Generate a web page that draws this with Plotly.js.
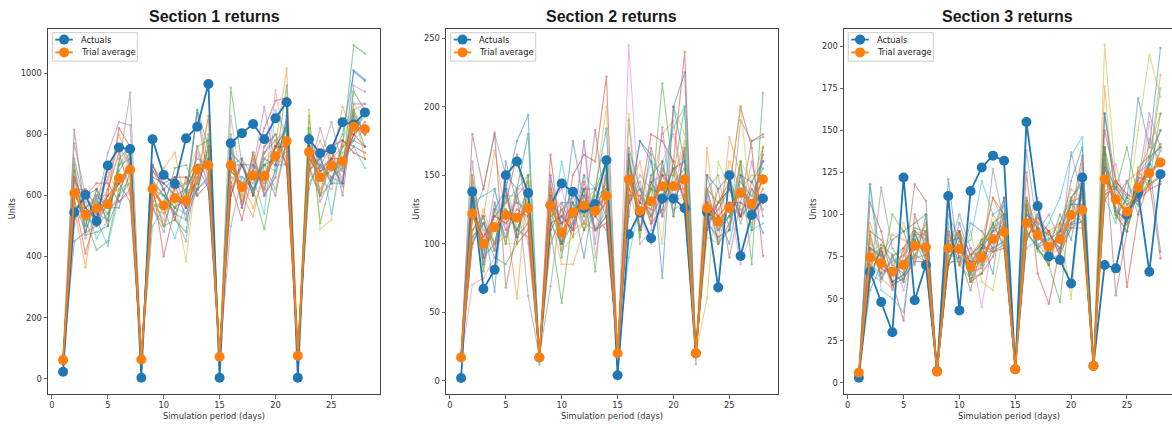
<!DOCTYPE html>
<html>
<head>
<meta charset="utf-8">
<script src="https://cdn.plot.ly/plotly-3.0.1.min.js"></script>
<style>
  html, body { margin: 0; padding: 0; background: #fff; }
  #chart { width: 1172px; height: 424px; }
</style>
</head>
<body>
<div id="chart"></div>
<script>
// Simulation days
const days = [1,2,3,4,5,6,7,8,9,10,11,12,13,14,15,16,17,18,19,20,21,22,23,24,25,26,27,28];

// Section 1
const actuals1 = [23,544,602,516,698,757,752,3,784,667,638,787,825,965,3,771,804,834,784,853,905,3,784,738,751,840,832,872];
const average1 = [61,607,536,558,571,656,684,63,621,567,591,582,684,699,72,699,627,665,664,728,778,75,742,660,697,711,825,817];
const trials1 = [
  [55,720,560,590,520,700,720,70,650,600,540,610,880,760,80,680,640,700,620,760,820,60,760,690,720,680,1010,980],
  [70,560,365,600,650,800,700,50,600,690,740,560,650,860,65,720,600,530,700,760,1016,90,700,600,700,890,800,830],
  [45,650,520,422,450,620,690,80,570,560,690,700,600,800,70,953,700,620,490,700,960,70,860,510,650,760,1092,1065],
  [65,590,410,540,600,820,760,60,640,400,560,590,870,650,85,640,520,680,820,910,920,80,720,700,660,690,800,760],
  [50,620,620,560,740,840,830,75,580,620,530,450,700,690,60,760,560,690,890,700,700,60,680,820,700,630,960,940],
  [80,815,530,500,580,640,700,55,610,500,620,640,720,700,75,600,700,620,680,600,780,85,640,700,760,600,870,800],
  [60,500,560,600,560,580,610,70,700,640,600,540,620,650,65,860,620,720,600,945,740,65,800,650,620,720,780,820],
  [58,770,600,540,520,700,937,65,560,580,660,610,640,720,70,500,660,640,700,620,780,75,760,720,840,700,800,880],
  [55,700,500,620,680,600,660,60,660,540,580,385,700,720,80,720,580,620,720,760,700,70,880,490,520,780,880,720],
  [65,560,560,520,435,600,640,55,500,560,460,580,880,700,70,700,720,660,540,880,800,80,620,740,540,720,760,690],
  [60,450,480,600,560,640,580,65,700,620,660,560,620,660,75,740,700,700,660,760,820,70,690,600,720,800,1005,975],
  [62,610,560,520,570,700,740,60,620,560,580,600,640,860,70,660,640,560,660,720,700,75,700,780,700,660,850,810],
  [58,680,470,480,500,720,760,62,560,500,520,480,760,780,70,800,560,740,600,660,860,72,820,600,640,640,940,880],
  [64,520,600,640,640,580,620,66,680,640,660,660,600,640,75,600,720,600,760,800,700,78,680,740,760,780,740,720],
  [60,700,480,500,620,740,620,60,560,480,640,520,760,620,70,780,560,740,600,680,860,74,800,580,660,640,900,900],
  [63,540,600,620,500,600,720,64,700,620,520,660,620,760,73,620,700,600,740,780,700,76,680,720,640,780,760,740],
  [59,660,460,540,660,760,700,61,580,520,660,560,740,640,71,740,560,720,600,660,840,73,780,600,760,640,880,900],
  [62,520,580,500,540,600,740,65,680,620,540,520,620,760,74,640,700,620,740,800,720,77,700,720,640,760,780,760],
  [61,700,520,600,600,620,640,62,600,500,640,640,760,660,72,760,600,720,620,780,820,75,680,600,740,700,900,860],
  [60,560,560,460,520,700,760,63,640,600,560,540,640,740,72,660,660,620,700,680,760,74,800,700,640,740,780,880],
  [62,620,500,620,560,560,680,64,660,640,600,620,700,620,71,700,700,600,720,700,840,76,720,680,700,640,860,760],
  [60,600,620,560,620,740,600,62,560,540,620,580,640,760,73,720,580,740,620,760,740,74,760,620,720,760,820,860],
  [61,580,480,580,540,680,740,63,620,600,560,620,700,700,72,680,640,660,700,720,820,75,720,660,680,700,880,800],
  [62,660,560,520,600,640,700,62,620,560,600,560,660,720,72,720,620,680,640,760,760,75,760,680,720,720,800,840]
];

// Section 2
const actuals2 = [2,138,67,81,150,160,137,17,128,144,138,126,129,161,4,107,123,104,133,133,126,20,123,68,150,91,121,133];
const average2 = [17,122,100,112,121,119,126,17,128,108,123,128,124,135,20,147,124,131,142,142,147,20,126,116,126,137,129,147];
const trials2 = [
  [15,130,90,100,140,175,194,15,150,110,175,130,120,150,18,130,175,160,120,200,225,18,150,120,100,140,130,160],
  [18,110,120,168,120,60,150,20,120,85,85,110,130,140,22,140,110,140,180,190,130,22,170,100,178,150,120,171],
  [16,140,110,90,85,100,150,12,110,57,120,140,80,160,19,170,140,130,217,150,200,19,130,110,120,160,85,210],
  [20,150,100,120,130,165,120,18,165,100,150,165,160,222,20,160,130,180,175,160,240,21,120,130,140,200,170,91],
  [17,160,90,140,110,120,140,16,120,130,110,175,100,150,21,190,100,110,185,120,170,20,140,110,130,120,160,120],
  [18,180,140,181,68,110,130,17,100,120,140,120,183,120,20,150,120,170,140,130,150,19,110,140,90,130,175,180],
  [15,70,75,90,120,130,100,19,130,140,110,175,90,140,18,245,120,100,160,180,140,20,120,100,130,85,110,130],
  [16,120,140,180,150,140,62,18,69,130,130,110,120,110,22,130,150,140,120,150,135,12,140,150,110,190,175,178],
  [17,110,120,100,130,140,180,16,140,110,120,130,140,200,20,195,110,150,100,200,180,20,60,160,140,200,120,150],
  [18,130,135,140,100,140,180,17,110,160,120,150,140,130,19,90,130,160,150,185,200,21,130,110,120,140,110,115],
  [16,100,120,65,160,130,125,18,125,115,130,90,140,184,20,120,175,165,75,200,160,20,150,140,150,120,130,108],
  [19,120,105,115,125,110,130,17,135,100,120,125,125,145,21,140,160,120,150,150,170,19,125,120,160,140,150,150],
  [16,145,80,130,100,140,150,17,145,90,140,110,140,160,20,165,105,150,160,120,170,20,140,100,110,160,110,170],
  [18,100,115,95,140,100,110,18,110,125,105,145,110,115,21,130,140,115,125,160,130,21,110,130,140,120,145,130],
  [17,135,90,125,105,135,145,16,140,95,135,115,140,150,20,160,110,145,150,130,165,20,135,100,115,150,120,165],
  [16,105,115,100,135,105,115,17,115,120,110,140,110,120,19,135,135,120,135,155,130,20,115,125,140,120,140,130],
  [17,140,85,130,110,140,140,17,150,100,140,115,130,160,20,170,110,150,120,140,170,19,140,110,110,155,125,165],
  [18,110,120,95,145,110,105,18,115,120,110,150,110,120,21,130,145,115,160,125,130,21,115,130,145,115,140,125],
  [17,150,80,125,100,100,150,16,140,95,105,115,140,155,20,160,105,145,130,150,175,20,105,100,115,160,145,170],
  [16,105,115,100,135,135,115,17,120,125,135,135,110,125,20,135,140,120,155,135,135,20,140,130,140,125,120,135],
  [18,140,85,125,140,105,140,18,115,100,115,140,140,120,21,165,110,145,130,155,160,20,115,105,110,150,145,160],
  [17,100,125,100,105,135,110,17,140,125,110,115,110,150,20,135,135,115,155,130,135,20,140,130,145,125,115,135],
  [16,130,95,110,125,110,135,16,125,100,130,120,135,140,20,155,120,140,135,145,155,20,120,115,120,145,135,155],
  [18,120,105,120,115,125,120,18,135,115,120,135,120,130,21,140,130,125,150,140,140,21,130,120,130,130,125,140]
];

// Section 3
const actuals3 = [3,66,48,30,122,49,70,7,111,43,114,128,135,132,8,155,105,75,73,59,122,10,70,68,100,113,66,124];
const average3 = [6,74.5,71,66,70,81.5,80.5,6.6,80,79.5,69,74.5,85.4,89.6,8,95,88,81,85.4,99.7,102.7,10,121,109,101.7,116,124.5,131];
const trials3 = [
  [5,118,70,65,60,85,90,6,121,70,95,90,80,100,7,110,90,80,85,120,140,9,160,120,110,169,140,199],
  [6,80,75,88,85,80,95,7,85,90,60,75,100,90,8,100,95,70,90,100,110,10,176,100,90,120,130,183],
  [7,70,65,100,90,95,100,6,75,80,65,85,90,110,9,90,80,70,48,110,120,11,130,115,140,110,120,160],
  [6,107,90,60,37,100,80,7,80,90,60,65,75,95,8,125,65,47,80,100,135,10,150,120,57,100,120,74],
  [5,75,80,55,75,85,75,6,100,85,70,80,95,80,8,100,95,90,75,137,110,10,130,100,110,120,160,140],
  [6,90,85,70,65,118,108,7,70,75,55,80,110,100,8,105,80,85,90,95,100,9,140,52,90,115,130,150],
  [6,65,60,75,55,80,90,6,90,75,80,45,85,110,7,95,110,75,80,110,100,10,120,130,100,110,155,120],
  [5,60,116,80,70,85,70,7,80,100,80,70,127,95,8,138,90,100,85,95,130,9,140,110,120,100,145,130],
  [6,85,70,65,95,75,95,6,85,70,90,60,55,90,9,90,100,85,95,50,120,10,201,120,100,150,195,170],
  [7,118,55,50,42,90,85,7,95,80,85,120,100,105,8,80,85,95,110,135,146,11,110,95,120,105,130,175],
  [5,55,70,85,90,70,100,6,70,95,75,85,65,110,8,85,100,80,100,85,120,10,160,110,100,110,130,78],
  [6,95,75,60,80,90,85,7,80,90,70,85,110,95,8,110,85,90,95,115,110,10,130,100,120,125,140,160],
  [6,88,62,75,80,92,90,7,90,70,62,65,95,100,8,108,80,70,95,110,118,10,140,100,90,128,135,150],
  [7,62,80,58,62,72,72,6,70,90,76,82,78,80,8,85,98,90,76,92,92,10,108,120,112,108,115,118],
  [6,80,65,72,76,88,88,7,88,75,66,68,92,98,8,105,82,75,92,106,112,10,132,104,95,125,130,142],
  [5,70,78,60,64,76,72,6,72,84,72,80,80,84,8,88,92,88,80,94,96,10,112,116,106,110,118,122],
  [6,84,62,76,78,90,88,7,90,86,62,70,90,96,8,102,94,72,90,108,110,10,130,100,94,124,134,140],
  [7,66,78,58,62,74,76,6,72,72,76,78,78,82,9,90,80,90,78,92,96,11,114,118,108,108,118,124],
  [6,78,82,70,76,88,74,7,86,88,60,84,92,96,8,106,94,72,92,108,110,10,134,100,96,126,116,142],
  [6,70,62,74,68,76,86,6,76,74,74,70,80,84,8,88,82,86,80,94,98,10,112,116,106,110,130,124],
  [5,80,76,60,64,88,76,7,84,86,64,80,90,94,8,100,92,76,90,106,106,10,128,102,96,122,120,138],
  [7,90,62,56,80,74,90,7,92,70,76,68,78,96,9,86,96,88,94,92,110,10,110,120,94,126,116,124],
  [6,62,82,76,60,90,72,6,72,88,60,82,94,82,8,106,78,74,76,108,94,10,136,98,110,106,134,140],
  [6,76,68,64,72,80,82,7,82,78,72,72,86,92,8,96,86,82,86,98,104,10,122,110,100,118,126,130]
];

const sectionTitles = ['Section 1 returns', 'Section 2 returns', 'Section 3 returns'];
const seriesNames = ['Actuals', 'Trial average'];
const xTitle = 'Simulation period (days)';
const yTitle = 'Units';

const palette = ['#1f77b4','#ff7f0e','#2ca02c','#d62728','#9467bd','#8c564b','#e377c2','#7f7f7f','#bcbd22','#17becf'];
const seriesColors = ['#1f77b4', '#ff7f0e'];

const W = 1172, H = 424;
const px = v => v / W;
const py = v => (H - v) / H;

const sections = [
  {trials: trials1, actuals: actuals1, average: average1, xa: 'x', ya: 'y'},
  {trials: trials2, actuals: actuals2, average: average2, xa: 'x2', ya: 'y2'},
  {trials: trials3, actuals: actuals3, average: average3, xa: 'x3', ya: 'y3'}
];

const traces = [];
sections.forEach(s => {
  s.trials.forEach((t, i) => {
    traces.push({
      x: days, y: t, xaxis: s.xa, yaxis: s.ya,
      type: 'scatter', mode: 'lines+markers',
      line: {color: palette[i % 10], width: 1.1},
      marker: {color: palette[i % 10], size: 2.5},
      opacity: 0.5, showlegend: false, hoverinfo: 'skip'
    });
  });
  [s.actuals, s.average].forEach((vals, k) => {
    traces.push({
      x: days, y: vals, xaxis: s.xa, yaxis: s.ya, name: seriesNames[k],
      type: 'scatter', mode: 'lines+markers', showlegend: false,
      line: {color: seriesColors[k], width: 1.8},
      marker: {color: seriesColors[k], size: 10}
    });
  });
});

const tickFont = {family: 'DejaVu Sans', size: 8.3, color: '#333'};
const axisCommon = {
  showgrid: false, zeroline: false, showline: true, mirror: true,
  linecolor: '#444', linewidth: 1, ticks: 'outside', ticklen: 3.5,
  tickwidth: 0.8, tickcolor: '#444', tickfont: tickFont, fixedrange: true
};
const yDomain = [30 / H, 395 / H];

const layout = {
  width: W, height: H,
  margin: {l: 0, r: 0, t: 0, b: 0},
  paper_bgcolor: '#fff', plot_bgcolor: '#fff',
  showlegend: false,
  hovermode: false,
  xaxis:  Object.assign({}, axisCommon, {domain: [px(48), px(380)],  range: [-0.35, 29.35], tickvals: [0,5,10,15,20,25], anchor: 'y'}),
  xaxis2: Object.assign({}, axisCommon, {domain: [px(446), px(778)], range: [-0.35, 29.35], tickvals: [0,5,10,15,20,25], anchor: 'y2'}),
  xaxis3: Object.assign({}, axisCommon, {domain: [px(844), 1],       range: [-0.33, 29.03], tickvals: [0,5,10,15,20,25], anchor: 'y3'}),
  yaxis:  Object.assign({}, axisCommon, {domain: yDomain, range: [-50, 1145],  dtick: 200, tick0: 0, anchor: 'x'}),
  yaxis2: Object.assign({}, axisCommon, {domain: yDomain, range: [-9.7, 256.8], dtick: 50,  tick0: 0, anchor: 'x2'}),
  yaxis3: Object.assign({}, axisCommon, {domain: yDomain, range: [-6.7, 210.3], dtick: 25,  tick0: 0, anchor: 'x3'}),
  shapes: [],
  annotations: []
};

// Compact legend box in the upper-left corner of each panel
const legendLeft = [52.3, 450.7, 848.3];
const legendTop = 32.7, legendW = 85, legendH = 28.5;
const rowY = [39.6, 52.4];
legendLeft.forEach(L => {
  layout.shapes.push({
    type: 'rect', xref: 'paper', yref: 'paper',
    x0: px(L), x1: px(L + legendW), y0: py(legendTop + legendH), y1: py(legendTop),
    fillcolor: 'rgba(255,255,255,0.85)', line: {color: '#cccccc', width: 1}, layer: 'above'
  });
  seriesNames.forEach((name, k) => {
    layout.shapes.push({
      type: 'line', xref: 'paper', yref: 'paper',
      x0: px(L + 3), x1: px(L + 20.5), y0: py(rowY[k]), y1: py(rowY[k]),
      line: {color: seriesColors[k], width: 1.8}, layer: 'above'
    });
    layout.shapes.push({
      type: 'circle', xref: 'paper', yref: 'paper', xsizemode: 'pixel', ysizemode: 'pixel',
      xanchor: px(L + 11.8), yanchor: py(rowY[k]), x0: -5, x1: 5, y0: -5, y1: 5,
      fillcolor: seriesColors[k], line: {width: 0}, layer: 'above'
    });
    layout.annotations.push({
      text: name, xref: 'paper', yref: 'paper',
      x: px(L + 26.5), y: py(rowY[k]), xanchor: 'left', yanchor: 'middle', showarrow: false,
      font: {family: 'DejaVu Sans', size: 8.3, color: '#222'}
    });
  });
});

const titleX = [214, 611.5, 1007];
const unitsX = [12.3, 415.7, 812.7];
const xTitleX = [213.7, 612, 1009.2];
for (let i = 0; i < 3; i++) {
  layout.annotations.push({
    text: sectionTitles[i], xref: 'paper', yref: 'paper',
    x: px(titleX[i]), y: py(16.5), xanchor: 'center', yanchor: 'middle', showarrow: false,
    font: {family: 'Liberation Sans, Arial, sans-serif', size: 16, weight: 700, color: '#1a1a1a'}
  });
  layout.annotations.push({
    text: yTitle, xref: 'paper', yref: 'paper', textangle: -90,
    x: px(unitsX[i]), y: py(209), xanchor: 'center', yanchor: 'middle', showarrow: false,
    font: {family: 'DejaVu Sans', size: 8.3, color: '#333'}
  });
  layout.annotations.push({
    text: xTitle, xref: 'paper', yref: 'paper',
    x: px(xTitleX[i]), y: py(415.5), xanchor: 'center', yanchor: 'middle', showarrow: false,
    font: {family: 'DejaVu Sans', size: 8.3, color: '#333'}
  });
}

Plotly.newPlot('chart', traces, layout, {staticPlot: true, displayModeBar: false});
</script>
</body>
</html>
